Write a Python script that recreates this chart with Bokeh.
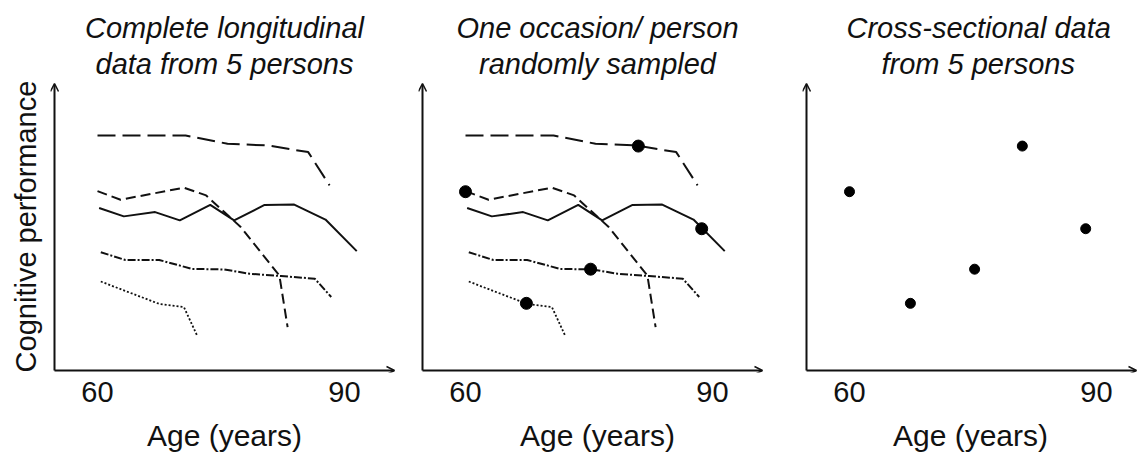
from bokeh.plotting import figure
from bokeh.layouts import row
from bokeh.models import Arrow, OpenHead, FixedTicker, Range1d, Title
from bokeh.embed import file_html
from bokeh.resources import INLINE

FONT = "Liberation Sans"

# ---- data (age in years, cognitive performance in arbitrary units 0-100) ----
age_a = [60, 70.7, 75.8, 80.7, 85.6, 88.2]
perf_a = [81.9, 81.9, 79.0, 78.4, 76.1, 64.5]

age_b = [60, 62.8, 70.5, 73.2, 77.4, 82.1, 83.1]
perf_b = [62.5, 59.5, 63.7, 61.0, 50.0, 33.1, 15.1]

age_c = [60.2, 63.2, 67.0, 70.0, 73.7, 76.6, 80.3, 83.9, 87.7, 91.5]
perf_c = [56.6, 53.7, 55.2, 52.3, 57.7, 52.3, 57.7, 57.8, 52.6, 41.6]

age_d = [60.4, 63.4, 67.5, 71.5, 75.4, 78.5, 82.3, 86.4, 88.4]
perf_d = [41.2, 38.5, 38.5, 35.4, 35.2, 33.7, 32.9, 32.0, 25.6]

age_e = [60.4, 67.5, 70.5, 72.1]
perf_e = [31.0, 23.2, 22.1, 12.2]

sample_age = [60.0, 67.4, 75.2, 81.0, 88.7]
sample_perf = [62.3, 23.4, 35.3, 78.2, 49.4]

x_ticks = [60, 90]

titles = [
    ["Complete longitudinal", "data from 5 persons"],
    ["One occasion/ person", "randomly sampled"],
    ["Cross-sectional data", "from 5 persons"],
]
x_label = "Age (years)"
y_label = "Cognitive performance"

# ---- geometry ----
PX_PER_YEAR = 8.23
PX_PER_UNIT = 2.87
X_START = 60 - 47 / PX_PER_YEAR
AXIS_X = 60 - 43 / PX_PER_YEAR
Y_START = -2 / PX_PER_UNIT
Y_END = 100 + 3 / PX_PER_UNIT
H = 458
INK = "#111111"

line_styles = [
    (age_a, perf_a, "18 7", 2.0),
    (age_b, perf_b, "10 5", 2.0),
    (age_c, perf_c, "solid", 2.0),
    (age_d, perf_d, "8 2 2 2", 2.0),
    (age_e, perf_e, "2 2", 1.8),
]


def make_panel(frame_w, border_left, border_right, title_lines, show_ylabel,
               draw_lines, dot_size, arrow_px, title_offsets=None):
    x_end = X_START + frame_w / PX_PER_YEAR
    arrow_x_end = X_START + arrow_px / PX_PER_YEAR
    p = figure(width=border_left + frame_w + border_right, height=H,
               output_backend="svg", toolbar_location=None,
               x_range=Range1d(X_START, x_end), y_range=Range1d(Y_START, Y_END),
               min_border_left=border_left, min_border_right=border_right,
               min_border_top=80, min_border_bottom=86, title=None)
    p.outline_line_color = None
    p.grid.visible = False
    p.background_fill_color = None
    p.border_fill_color = None

    # titles (first added is closest to the frame)
    for i in (1, 0):
        kw = dict(align="center")
        if title_offsets is not None:
            kw = dict(align="left", offset=title_offsets[i])
        p.add_layout(Title(text=title_lines[i], text_font=FONT, text_font_size="29px",
                           text_font_style="italic", standoff=2, text_color=INK, **kw),
                     "above")

    xa = p.xaxis[0]
    xa.ticker = FixedTicker(ticks=x_ticks)
    xa.axis_line_color = None
    xa.major_tick_line_color = None
    xa.minor_tick_line_color = None
    xa.major_label_text_font = FONT
    xa.major_label_text_font_size = "29px"
    xa.major_label_text_color = INK
    xa.major_label_standoff = 3
    xa.axis_label = x_label
    xa.axis_label_text_font = FONT
    xa.axis_label_text_font_size = "30px"
    xa.axis_label_text_font_style = "normal"
    xa.axis_label_text_color = INK
    xa.axis_label_standoff = 14

    ya = p.yaxis[0]
    if show_ylabel:
        ya.ticker = FixedTicker(ticks=[])
        ya.axis_line_color = None
        ya.major_tick_line_color = None
        ya.minor_tick_line_color = None
        ya.axis_label = y_label
        ya.axis_label_text_font = FONT
        ya.axis_label_text_font_size = "29px"
        ya.axis_label_text_font_style = "normal"
        ya.axis_label_text_color = INK
        ya.axis_label_standoff = 9
    else:
        ya.visible = False

    # arrowed axes
    p.add_layout(Arrow(end=OpenHead(size=8, line_width=1.5, line_color=INK),
                       x_start=AXIS_X, y_start=0, x_end=AXIS_X, y_end=100,
                       line_width=2, line_color=INK))
    p.add_layout(Arrow(end=OpenHead(size=8, line_width=1.5, line_color=INK),
                       x_start=AXIS_X, y_start=0, x_end=arrow_x_end, y_end=0,
                       line_width=2, line_color=INK))

    if draw_lines:
        for ages, perfs, dash, lw in line_styles:
            p.line(ages, perfs, line_dash=dash, line_width=lw, line_color=INK)
    if dot_size:
        p.scatter(sample_age, sample_perf, size=dot_size, color="#000000")
    return p


# figure x-extents: [0,400], [400,778], [778,1138]
p1 = make_panel(348, 50, 2, titles[0], True, True, 0, 344)
p2 = make_panel(358, 18, 2, titles[1], False, True, 12, 344)
p3 = make_panel(336, 24, 0, titles[2], False, False, 10, 334, title_offsets=(44, 79))

layout = row(p1, p2, p3, spacing=0)
open("out.html", "w").write(file_html(layout, INLINE))
